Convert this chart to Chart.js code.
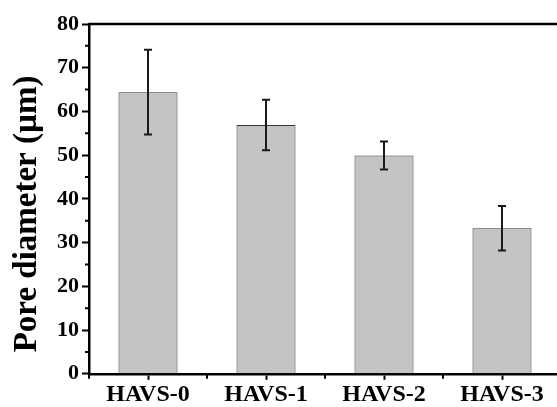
<!DOCTYPE html>
<html>
<head>
<meta charset="utf-8">
<script src="https://cdn.jsdelivr.net/npm/chart.js@4"></script>
<style>
  html, body { margin: 0; padding: 0; background: #fff; overflow: hidden; }
  #wrap { width: 565px; height: 407px; }
</style>
</head>
<body>
<div id="wrap"><canvas id="pore"></canvas></div>
<script>
const categories = ['HAVS-0', 'HAVS-1', 'HAVS-2', 'HAVS-3'];
const means = [64.4, 56.9, 49.9, 33.3];
const errors = [9.7, 5.8, 3.2, 5.1];
const yTicks = [0, 10, 20, 30, 40, 50, 60, 70, 80];
const yTitle = 'Pore diameter (µm)';

const serif = "'Liberation Serif', 'Times New Roman', serif";

// error bars, minor ticks, frame and the y title (sits a bit below centre)
const extras = {
  id: 'extras',
  afterDatasetsDraw(chart) {
    const ctx = chart.ctx;
    const x = chart.scales.x, y = chart.scales.y;
    const area = chart.chartArea;
    ctx.save();
    ctx.strokeStyle = '#1a1a1a';
    ctx.lineWidth = 2;
    means.forEach((m, i) => {
      const cx = x.getPixelForValue(i);
      const top = y.getPixelForValue(m + errors[i]);
      const bot = y.getPixelForValue(m - errors[i]);
      ctx.beginPath();
      ctx.moveTo(cx, top); ctx.lineTo(cx, bot);
      ctx.moveTo(cx - 4, top); ctx.lineTo(cx + 4, top);
      ctx.moveTo(cx - 4, bot); ctx.lineTo(cx + 4, bot);
      ctx.stroke();
    });
    // minor ticks
    ctx.strokeStyle = '#000';
    ctx.lineWidth = 2;
    ctx.beginPath();
    for (let v = 5; v < 80; v += 10) {
      const py = y.getPixelForValue(v);
      ctx.moveTo(area.left - 4, py); ctx.lineTo(area.left, py);
    }
    for (let i = 0; i <= categories.length; i++) {
      const px = x.getPixelForValue(i - 0.5);
      ctx.moveTo(px, area.bottom); ctx.lineTo(px, area.bottom + 5);
    }
    ctx.stroke();
    // top frame
    ctx.lineWidth = 2.5;
    ctx.beginPath();
    ctx.moveTo(area.left, area.top); ctx.lineTo(area.right, area.top);
    ctx.lineTo(area.right, area.bottom);
    ctx.stroke();
    // y title
    ctx.translate(27, (area.top + area.bottom) / 2 + 15);
    ctx.rotate(-Math.PI / 2);
    ctx.font = 'bold 33px ' + serif;
    ctx.fillStyle = '#000';
    ctx.textAlign = 'center';
    ctx.textBaseline = 'middle';
    ctx.fillText(yTitle, 0, 0);
    ctx.restore();
  }
};

new Chart(document.getElementById('pore'), {
  type: 'bar',
  data: {
    labels: categories,
    datasets: [{
      data: means,
      backgroundColor: '#c4c4c4',
      borderColor: '#333',
      borderWidth: 1,
      barPercentage: 0.5,
      categoryPercentage: 1.0
    }]
  },
  options: {
    responsive: true,
    maintainAspectRatio: false,
    animation: false,
    layout: { padding: { left: 54, right: 4, top: 24, bottom: -2 } },
    plugins: { legend: { display: false }, tooltip: { enabled: false } },
    scales: {
      x: {
        grid: { offset: false, drawOnChartArea: false, tickLength: 6, tickWidth: 2, tickColor: '#000' },
        border: { color: '#000', width: 2.5 },
        ticks: { color: '#000', padding: 2, font: { family: serif, size: 24, weight: 'bold', lineHeight: 1.05 } }
      },
      y: {
        min: 0, max: 80,
        afterBuildTicks(scale) { scale.ticks = yTicks.map(v => ({ value: v })); },
        grid: { drawOnChartArea: false, tickLength: 7, tickWidth: 2, tickColor: '#000' },
        border: { color: '#000', width: 2.5 },
        ticks: { color: '#000', padding: 3, font: { family: serif, size: 22, weight: 'bold' } }
      }
    }
  },
  plugins: [extras]
});
</script>
</body>
</html>
